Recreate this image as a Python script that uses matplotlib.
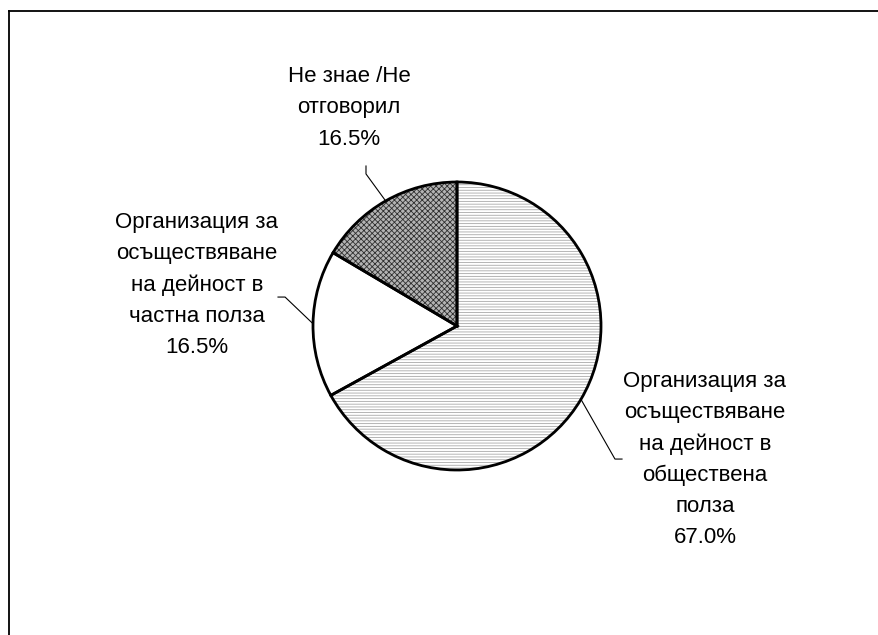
import numpy as np
import matplotlib
matplotlib.use("Agg")
import matplotlib.pyplot as plt
from matplotlib.lines import Line2D

categories = [
    "Организация за\nосъществяване\nна дейност в\nобществена\nполза",
    "Организация за\nосъществяване\nна дейност в\nчастна полза",
    "Не знае /Не\nотговорил",
]
values = [67.0, 16.5, 16.5]

plt.rcParams['font.family'] = ['Liberation Sans Narrow', 'Liberation Sans', 'DejaVu Sans']
plt.rcParams['hatch.linewidth'] = 0.6

W, H = 879, 635
cx, cy, R = 457, 326, 144  # pie centre / radius in pixels
fig = plt.figure(figsize=(W / 100, H / 100), dpi=100)
ax = fig.add_axes([0, 0, 1, 1])

# filled, hatched wedges
wedges, _ = ax.pie(values, startangle=90, counterclock=False, radius=1,
                   wedgeprops=dict(linewidth=0))
styles = [
    dict(fc='white', ec='#a8a8a8', hatch='------'),
    dict(fc='white', ec='white', hatch=None),
    dict(fc='#b4b4b4', ec='#303030', hatch='xxxxxx'),
]
for w, s in zip(wedges, styles):
    w.set_facecolor(s['fc'])
    w.set_edgecolor(s['ec'])
    w.set_hatch(s['hatch'])
    w.set_linewidth(0)

# outlines
outl, _ = ax.pie(values, startangle=90, counterclock=False, radius=1,
                 wedgeprops=dict(fill=False, edgecolor='black', linewidth=2.0))

ax.set_xlim(-cx / R, (W - cx) / R)
ax.set_ylim(-(H - cy) / R, cy / R)
ax.set_aspect('auto')
ax.axis('off')

# label layout (positions only)
text_pos = [(1.722, -0.927), (-1.806, 0.285), (-0.75, 1.514)]
elbows = [((1.097, -0.924), (1.146, -0.924)),
          ((-1.194, 0.201), (-1.243, 0.201)),
          ((-0.632, 1.056), (-0.632, 1.111))]

for w, cat, v, tp, (e1, e2) in zip(wedges, categories, values, text_pos, elbows):
    mid = np.deg2rad((w.theta1 + w.theta2) / 2)
    p = (np.cos(mid), np.sin(mid))
    ax.plot([p[0], e1[0], e2[0]], [p[1], e1[1], e2[1]], color='black', lw=0.8)
    ax.text(tp[0], tp[1], f"{cat}\n{v:.1f}%", ha='center', va='center',
            fontsize=16, linespacing=1.63, color='black')

# partial frame (top and left edges)
fig.add_artist(Line2D([9 / W, 9 / W], [0, 1 - 11 / H], color='black', lw=1.3,
                      transform=fig.transFigure))
fig.add_artist(Line2D([9 / W, 1], [1 - 11 / H, 1 - 11 / H], color='black', lw=1.3,
                      transform=fig.transFigure))

fig.savefig("out.png", dpi=100, facecolor='white')
